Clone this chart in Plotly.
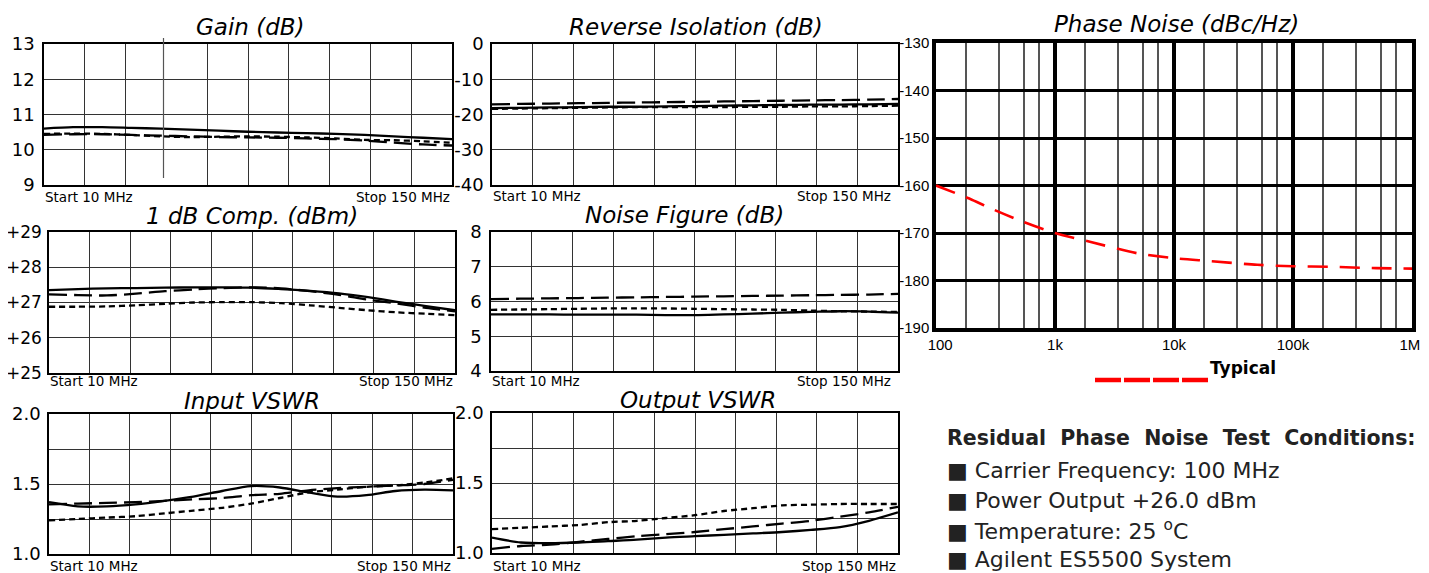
import plotly.graph_objects as go

# ---------------- data ----------------
FREQ_MHZ = [10, 20, 30, 40, 50, 60, 70, 80, 90, 100, 110, 120, 130, 140, 150]

GAIN_SOLID = [10.60, 10.64, 10.64, 10.62, 10.60, 10.57, 10.54, 10.51, 10.49, 10.47, 10.45, 10.42, 10.38, 10.34, 10.30]
GAIN_DASH = [10.42, 10.44, 10.44, 10.42, 10.40, 10.38, 10.36, 10.35, 10.34, 10.32, 10.30, 10.26, 10.20, 10.15, 10.12]
GAIN_DOT = [10.45, 10.46, 10.45, 10.42, 10.38, 10.36, 10.37, 10.38, 10.37, 10.35, 10.32, 10.28, 10.27, 10.24, 10.20]

REV_SOLID = [-18.2, -18.1, -18.0, -17.9, -17.8, -17.8, -17.7, -17.6, -17.5, -17.4, -17.3, -17.2, -17.2, -17.1, -17.0]
REV_DASH = [-17.1, -17.0, -16.9, -16.8, -16.7, -16.6, -16.5, -16.4, -16.3, -16.2, -16.1, -16.0, -15.9, -15.8, -15.6]
REV_DOT = [-18.4, -18.3, -18.2, -18.1, -18.0, -17.9, -17.9, -17.9, -17.9, -17.8, -17.8, -17.7, -17.7, -17.6, -17.5]

COMP_SOLID = [27.35, 27.38, 27.40, 27.41, 27.42, 27.43, 27.43, 27.42, 27.38, 27.33, 27.26, 27.15, 27.02, 26.90, 26.78]
COMP_DASH = [27.23, 27.21, 27.20, 27.25, 27.32, 27.37, 27.41, 27.43, 27.40, 27.32, 27.22, 27.08, 26.97, 26.85, 26.75]
COMP_DOT = [26.88, 26.88, 26.89, 26.92, 26.96, 27.00, 27.01, 27.01, 26.98, 26.92, 26.85, 26.78, 26.72, 26.68, 26.64]

NF_SOLID = [5.63, 5.63, 5.63, 5.62, 5.62, 5.62, 5.61, 5.61, 5.63, 5.65, 5.68, 5.70, 5.72, 5.71, 5.68]
NF_DASH = [6.07, 6.08, 6.09, 6.10, 6.11, 6.12, 6.13, 6.14, 6.15, 6.16, 6.17, 6.18, 6.19, 6.20, 6.22]
NF_DOT = [5.76, 5.77, 5.78, 5.79, 5.80, 5.80, 5.80, 5.79, 5.78, 5.77, 5.76, 5.74, 5.72, 5.71, 5.70]

INV_SOLID = [1.37, 1.34, 1.34, 1.355, 1.38, 1.41, 1.45, 1.485, 1.475, 1.44, 1.41, 1.42, 1.45, 1.46, 1.455]
INV_DASH = [1.355, 1.36, 1.365, 1.37, 1.38, 1.39, 1.40, 1.42, 1.43, 1.455, 1.47, 1.48, 1.49, 1.50, 1.53]
INV_DOT = [1.24, 1.25, 1.26, 1.27, 1.29, 1.31, 1.33, 1.36, 1.40, 1.44, 1.46, 1.48, 1.49, 1.51, 1.54]

OUTV_SOLID = [1.11, 1.075, 1.07, 1.075, 1.085, 1.095, 1.11, 1.12, 1.13, 1.14, 1.15, 1.165, 1.185, 1.23, 1.29]
OUTV_DASH = [1.03, 1.05, 1.06, 1.08, 1.10, 1.12, 1.135, 1.15, 1.17, 1.19, 1.21, 1.23, 1.26, 1.29, 1.33]
OUTV_DOT = [1.17, 1.18, 1.19, 1.20, 1.22, 1.23, 1.25, 1.27, 1.30, 1.32, 1.34, 1.345, 1.35, 1.35, 1.35]

PN_OFFSET_HZ = [100, 200, 300, 500, 1000, 2000, 5000, 10000, 20000, 50000, 100000, 200000, 500000, 1000000]
PN_DBC = [-160, -163, -165, -167.3, -170, -171.9, -174.3, -175.3, -175.9, -176.7, -177.0, -177.1, -177.4, -177.5]

PN_X_TICKS = [100, 1000, 10000, 100000, 1000000]
PN_X_LABELS = ["\u00a0\u00a0100", "1k", "10k", "100k", "1M\u00a0"]
PN_Y_TICKS = [-190, -180, -170, -160, -150, -140, -130]
PN_Y_LABELS = ["-190", "-180", "-170", "-160", "-150", "-140", "-130"]

GAIN_Y_LABELS = ["9", "10", "11", "12", "13"]
REV_Y_LABELS = ["-40", "-30", "-20", "-10", "0"]
COMP_Y_LABELS = ["+25", "+26", "+27", "+28", "+29"]
NF_Y_LABELS = ["4", "5", "6", "7", "8"]
VSWR_Y_LABELS = ["1.0", "1.5", "2.0"]

TITLES = ["Gain (dB)", "Reverse Isolation (dB)", "1 dB Comp. (dBm)", "Noise Figure (dB)",
          "Input VSWR", "Output VSWR"]

CONDITIONS = ["Carrier Frequency: 100 MHz", "Power Output +26.0 dBm",
              "Temperature: 25 <sup>o</sup>C", "Agilent ES5500 System"]

# ---------------- layout helpers ----------------
PAGE_W, PAGE_H = 1429, 573
OFF = 8  # page body margin of the html page
W, H = PAGE_W - OFF, PAGE_H - OFF


def px(x):
    return (x - OFF) / W


def py(y):
    return 1 - (y - OFF) / H


FONT = "DejaVu Sans"
ARIAL = "Liberation Sans"
CLEAR = "rgba(0,0,0,0)"

GRID_ALL = [10, 24, 38, 52, 66, 80, 94, 108, 122, 136, 150]
GRID_GAIN = [10, 24, 38, 66, 80, 94, 108, 122, 136, 150]  # one grid line is displaced in the gain panel

# panel boxes in page pixels: (left, right, top, bottom)
panels = [
    dict(box=(44, 452, 44, 185), yr=[9, 13], yt=[9, 10, 11, 12, 13], yl=GAIN_Y_LABELS, md=None, sd=4, fs=18,
         grid=GRID_GAIN, data=(GAIN_SOLID, GAIN_DASH, GAIN_DOT), title=(250, 27), lab=197),
    dict(box=(492, 898, 44, 185), yr=[-40, 0], yt=[-40, -30, -20, -10, 0], yl=REV_Y_LABELS, md=None, sd=3,
         fs=18, grid=GRID_ALL, data=(REV_SOLID, REV_DASH, REV_DOT), title=(696, 27), lab=196),
    dict(box=(49, 455, 232, 373), yr=[25, 29], yt=[25, 26, 27, 28, 29], yl=COMP_Y_LABELS, md=None, sd=2,
         fs=17, grid=GRID_ALL, data=(COMP_SOLID, COMP_DASH, COMP_DOT), title=(252, 216), lab=381),
    dict(box=(491, 898, 232, 371), yr=[4, 8], yt=[4, 5, 6, 7, 8], yl=NF_Y_LABELS, md=None, sd=4, fs=18,
         grid=GRID_ALL, data=(NF_SOLID, NF_DASH, NF_DOT), title=(684, 215), lab=381),
    dict(box=(49, 453, 414, 554), yr=[1, 2], yt=[1, 1.5, 2], yl=VSWR_Y_LABELS, md=0.25, sd=3, fs=18,
         grid=GRID_ALL, data=(INV_SOLID, INV_DASH, INV_DOT), title=(252, 401), lab=566),
    dict(box=(492, 898, 413, 553), yr=[1, 2], yt=[1, 1.5, 2], yl=VSWR_Y_LABELS, md=0.25, sd=3, fs=18,
         grid=GRID_ALL, data=(OUTV_SOLID, OUTV_DASH, OUTV_DOT), title=(698, 400), lab=566),
]

fig = go.Figure()
annotations = []
shapes = []

styles = [dict(dash="solid", width=2.3), dict(dash="18px,7px", width=2.3), dict(dash="6px,4px", width=2.3)]

for i, p in enumerate(panels, start=1):
    l, r, t, b = p["box"]
    xa = "xaxis" if i == 1 else f"xaxis{i}"
    ya = "yaxis" if i == 1 else f"yaxis{i}"
    xr = "x" if i == 1 else f"x{i}"
    yr = "y" if i == 1 else f"y{i}"
    ydict = dict(domain=[py(b), py(t)], anchor=xr, range=p["yr"], tickmode="array", tickvals=p["yt"],
                 ticktext=p["yl"], showgrid=True, gridcolor="#333333", gridwidth=1,
                 showline=True, linecolor="black", linewidth=1.5, mirror=True, zeroline=False,
                 ticks="outside", ticklen=p["sd"], tickcolor=CLEAR, automargin=False,
                 ticklabeloverflow="allow",
                 tickfont=dict(family=FONT, size=p["fs"], color="black"), fixedrange=True)
    if p["md"]:
        ydict["minor"] = dict(tickmode="linear", tick0=1, dtick=p["md"], showgrid=True,
                              gridcolor="#333333", gridwidth=1, ticks="")
    fig.update_layout(**{
        xa: dict(domain=[px(l), px(r)], anchor=yr, range=[10, 150], tickmode="array", tickvals=p["grid"],
                 showticklabels=False, showgrid=True, gridcolor="#333333", gridwidth=1,
                 showline=True, linecolor="black", linewidth=1.5, mirror=True, zeroline=False,
                 ticks="", automargin=False, fixedrange=True),
        ya: ydict,
    })
    for series, st in zip(p["data"], styles):
        fig.add_trace(go.Scatter(x=FREQ_MHZ, y=series, mode="lines", xaxis=xr, yaxis=yr,
                                 line=dict(color="black", width=st["width"], dash=st["dash"],
                                           shape="spline", smoothing=0.8),
                                 showlegend=False, hoverinfo="skip"))
    tx, ty = p["title"]
    annotations.append(dict(text=TITLES[i - 1], x=px(tx), y=py(ty), xref="paper", yref="paper",
                            xanchor="center", yanchor="middle", showarrow=False,
                            font=dict(family=FONT, size=23, color="black", style="italic")))
    annotations.append(dict(text="Start 10 MHz", x=px(l - 1), y=py(p["lab"]), xref="paper", yref="paper",
                            xanchor="left", yanchor="middle", showarrow=False,
                            font=dict(family=FONT, size=13.5, color="black")))
    annotations.append(dict(text="Stop 150 MHz", x=px(r - (5 if i in (2, 4) else 0)), y=py(p["lab"]),
                            xref="paper", yref="paper", xanchor="right", yanchor="middle", showarrow=False,
                            font=dict(family=FONT, size=13.5, color="black")))

# displaced grid line seen in the gain panel
shapes.append(dict(type="line", xref="paper", yref="paper", x0=px(163.5), x1=px(163.5), y0=py(38), y1=py(178),
                   line=dict(color="#555555", width=1.2)))

# ---------------- phase noise panel ----------------
PL, PR, PT, PB = 936, 1412, 43, 328
minor_vals = [d * m for d in [100, 1000, 10000, 100000] for m in [1.8, 3.4, 5.5, 7.4]]
fig.update_layout(
    xaxis7=dict(domain=[px(PL), px(PR)], anchor="y7", type="log", range=[2, 6], tickmode="array",
                tickvals=PN_X_TICKS, ticktext=PN_X_LABELS, showgrid=True, gridcolor="black", gridwidth=3.5,
                showline=True, linecolor="black", linewidth=3.5, mirror=True, zeroline=False, ticks="",
                tickfont=dict(family=ARIAL, size=15, color="black"), automargin=False,
                ticklabeloverflow="allow",
                minor=dict(tickmode="array", tickvals=minor_vals, showgrid=True, gridcolor="#555555",
                           gridwidth=1.5, ticks=""),
                fixedrange=True),
    yaxis7=dict(domain=[py(PB), py(PT)], anchor="x7", range=[-190, -130], tickmode="array",
                tickvals=PN_Y_TICKS, ticktext=PN_Y_LABELS, showgrid=True, gridcolor="black", gridwidth=2.5,
                showline=True, linecolor="black", linewidth=3.5, mirror=True, zeroline=False, ticks="",
                tickfont=dict(family=ARIAL, size=15, color="black"),
                automargin=False, ticklabeloverflow="allow", fixedrange=True),
)
fig.add_trace(go.Scatter(x=PN_OFFSET_HZ, y=PN_DBC, mode="lines", xaxis="x7", yaxis="y7",
                         line=dict(color="#ff0000", width=2.6, dash="20px,12px", shape="spline", smoothing=0.8),
                         showlegend=False, hoverinfo="skip"))
annotations.append(dict(text="Phase Noise (dBc/Hz)", x=px(1176), y=py(24), xref="paper", yref="paper",
                        xanchor="center", yanchor="middle", showarrow=False,
                        font=dict(family=FONT, size=23, color="black", style="italic")))

# "Typical" legend
shapes.append(dict(type="line", xref="paper", yref="paper", x0=px(1095), x1=px(1208), y0=py(380), y1=py(380),
                   line=dict(color="#ff0000", width=4.5, dash="26px,3px")))
annotations.append(dict(text="<b>Typical</b>", x=px(1208), y=py(368), xref="paper", yref="paper",
                        xanchor="left", yanchor="middle", showarrow=False,
                        font=dict(family=FONT, size=17, color="black")))

# test conditions block
annotations.append(dict(text="<b>Residual\u00a0 Phase\u00a0 Noise\u00a0 Test\u00a0 Conditions:</b>",
                        x=px(945), y=py(438), xref="paper", yref="paper",
                        xanchor="left", yanchor="middle", showarrow=False,
                        font=dict(family=FONT, size=20.5, color="#222222")))
cond_y = [470, 500, 530, 559]
for txt, yy in zip(CONDITIONS, cond_y):
    annotations.append(dict(text="\u25A0 " + txt, x=px(945), y=py(yy), xref="paper", yref="paper",
                            xanchor="left", yanchor="middle", showarrow=False,
                            font=dict(family=FONT, size=22, color="#222222")))

fig.update_layout(
    width=W, height=H, autosize=False,
    margin=dict(l=0, r=0, t=0, b=0, pad=0),
    paper_bgcolor="white", plot_bgcolor="white",
    font=dict(family=FONT, color="black"),
    showlegend=False,
    annotations=annotations, shapes=shapes,
)

fig.write_html("out.html")
